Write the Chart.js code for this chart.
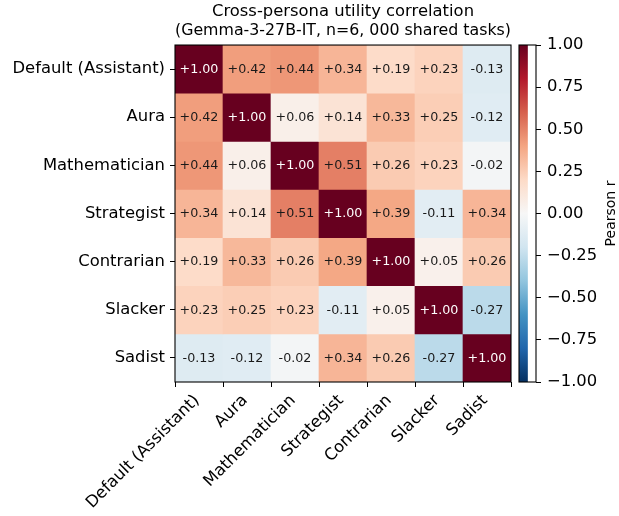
<!DOCTYPE html>
<html>
<head>
<meta charset="utf-8">
<script src="https://cdn.jsdelivr.net/npm/chart.js@4/dist/chart.umd.min.js"></script>
<style>
  html, body { margin: 0; padding: 0; background: #ffffff; }
  #wrap { position: relative; width: 619px; height: 516px; }
  #wrap canvas { position: absolute; left: 0; top: 0; }
  #cbar { pointer-events: none; }
</style>
</head>
<body>
<div id="wrap">
  <canvas id="heat" width="619" height="516"></canvas>
  <canvas id="cbar" width="619" height="516"></canvas>
</div>
<script>
// Personas (rows and columns of the correlation matrix)
const personas = ['Default (Assistant)', 'Aura', 'Mathematician', 'Strategist', 'Contrarian', 'Slacker', 'Sadist'];

// Pearson r of utilities, one row per persona
const rowDefault       = [ 1.00,  0.42,  0.44,  0.34,  0.19,  0.23, -0.13];
const rowAura          = [ 0.42,  1.00,  0.06,  0.14,  0.33,  0.25, -0.12];
const rowMathematician = [ 0.44,  0.06,  1.00,  0.51,  0.26,  0.23, -0.02];
const rowStrategist    = [ 0.34,  0.14,  0.51,  1.00,  0.39, -0.11,  0.34];
const rowContrarian    = [ 0.19,  0.33,  0.26,  0.39,  1.00,  0.05,  0.26];
const rowSlacker       = [ 0.23,  0.25,  0.23, -0.11,  0.05,  1.00, -0.27];
const rowSadist        = [-0.13, -0.12, -0.02,  0.34,  0.26, -0.27,  1.00];

// Colour bar range and tick step
const colorRange = [-1, 1];
const colorTickStep = 0.25;

const titleLines = ['Cross-persona utility correlation', '(Gemma-3-27B-IT, n=6, 000 shared tasks)'];
const colorbarLabel = 'Pearson r';

const matrix = [rowDefault, rowAura, rowMathematician, rowStrategist, rowContrarian, rowSlacker, rowSadist];

// Diverging red/blue map (blue for negative, dark red for positive)
const divergingStops = [
  [0.0, [5, 48, 97]], [0.1, [33, 102, 172]], [0.2, [67, 147, 195]], [0.3, [146, 197, 222]],
  [0.4, [209, 229, 240]], [0.5, [247, 247, 247]], [0.6, [253, 219, 199]], [0.7, [244, 165, 130]],
  [0.8, [214, 96, 77]], [0.9, [178, 24, 43]], [1.0, [103, 0, 31]]
];
function colorFor(v) {
  let t = (v - colorRange[0]) / (colorRange[1] - colorRange[0]);
  t = Math.max(0, Math.min(1, t));
  for (let i = 1; i < divergingStops.length; i++) {
    const [t1, c1] = divergingStops[i];
    const [t0, c0] = divergingStops[i - 1];
    if (t <= t1 + 1e-9) {
      const f = (t - t0) / (t1 - t0);
      const c = c0.map((a, k) => Math.round(a + (c1[k] - a) * f));
      return `rgb(${c[0]},${c[1]},${c[2]})`;
    }
  }
  return 'rgb(103,0,31)';
}

const FONT = "'DejaVu Sans', sans-serif";
Chart.defaults.font.family = FONT;
Chart.defaults.color = '#000000';

// Each row of the matrix is one dataset of floating bars spanning its row band
const datasets = matrix.map((row, r) => ({
  label: personas[r],
  data: row.map(() => [r - 0.5, r + 0.5]),
  values: row,
  backgroundColor: row.map(colorFor),
  borderWidth: 0,
  barPercentage: 1,
  categoryPercentage: 1,
  grouped: false
}));

// Value text in every cell plus the frame around the grid
const cellText = {
  id: 'cellText',
  afterDatasetsDraw(chart) {
    const ctx = chart.ctx;
    ctx.save();
    ctx.font = `12.7px ${FONT}`;
    ctx.textAlign = 'center';
    ctx.textBaseline = 'middle';
    chart.data.datasets.forEach((ds, i) => {
      const meta = chart.getDatasetMeta(i);
      meta.data.forEach((el, j) => {
        const v = ds.values[j];
        const p = el.getCenterPoint();
        ctx.fillStyle = Math.abs(v) > 0.6 ? '#ffffff' : '#1a1a1a';
        ctx.fillText((v >= 0 ? '+' : '') + v.toFixed(2), p.x, p.y + 0.5);
      });
    });
    const a = chart.chartArea;
    ctx.strokeStyle = '#000000';
    ctx.lineWidth = 1.1;
    ctx.strokeRect(a.left, a.top, a.right - a.left, a.bottom - a.top);
    ctx.restore();
  }
};

new Chart(document.getElementById('heat'), {
  type: 'bar',
  data: { labels: personas, datasets },
  plugins: [cellText],
  options: {
    responsive: false,
    devicePixelRatio: 1,
    animation: false,
    events: [],
    layout: { padding: { left: 0, right: 108, top: 0, bottom: 0 } },
    plugins: {
      legend: { display: false },
      tooltip: { enabled: false },
      title: {
        display: true,
        fullSize: false,
        text: titleLines,
        color: '#000000',
        font: { size: 16.4, weight: 'normal', family: FONT, lineHeight: 1.12 },
        padding: { top: 3, bottom: 5.3 }
      }
    },
    scales: {
      x: {
        type: 'category',
        offset: true,
        afterFit(s) { s.height = 134; },
        grid: { display: true, drawOnChartArea: false, tickLength: 5, color: '#000000', lineWidth: 1 },
        border: { display: false },
        ticks: {
          autoSkip: false, minRotation: 45, maxRotation: 45, padding: 4, labelOffset: -2,
          color: '#000000', font: { size: 16.4, family: FONT }
        }
      },
      y: {
        type: 'linear',
        min: -0.5,
        max: 6.5,
        reverse: true,
        afterFit(s) { s.width = 175; },
        afterBuildTicks(s) { s.ticks = personas.map((_, i) => ({ value: i })); },
        grid: { display: true, drawOnChartArea: false, tickLength: 5, color: '#000000', lineWidth: 1 },
        border: { display: false },
        ticks: {
          padding: 5,
          color: '#000000',
          font: { size: 16.4, family: FONT },
          callback: (v) => personas[v]
        }
      }
    }
  }
});

// Colour bar: one floating bar across the full range, filled with the map
const cbarFrame = {
  id: 'cbarFrame',
  afterDatasetsDraw(chart) {
    const ctx = chart.ctx;
    const a = chart.chartArea;
    ctx.save();
    ctx.strokeStyle = '#000000';
    ctx.lineWidth = 1.1;
    ctx.strokeRect(a.left, a.top, a.right - a.left, a.bottom - a.top);
    ctx.fillStyle = '#000000';
    ctx.font = `14px ${FONT}`;
    ctx.textAlign = 'center';
    ctx.textBaseline = 'middle';
    ctx.translate(611, (a.top + a.bottom) / 2);
    ctx.rotate(-Math.PI / 2);
    ctx.fillText(colorbarLabel, 0, 0);
    ctx.restore();
  }
};

new Chart(document.getElementById('cbar'), {
  type: 'bar',
  data: {
    labels: [colorbarLabel],
    datasets: [{
      data: [colorRange.slice()],
      borderWidth: 0,
      barPercentage: 1,
      categoryPercentage: 1,
      backgroundColor(c) {
        const chart = c.chart;
        if (!chart.chartArea) return 'rgba(0,0,0,0)';
        const ys = chart.scales.y;
        const y0 = ys.getPixelForValue(colorRange[0]);
        const y1 = ys.getPixelForValue(colorRange[1]);
        const g = chart.ctx.createLinearGradient(0, y0, 0, y1);
        divergingStops.forEach(([t]) => {
          g.addColorStop(t, colorFor(colorRange[0] + t * (colorRange[1] - colorRange[0])));
        });
        return g;
      }
    }]
  },
  plugins: [cbarFrame],
  options: {
    responsive: false,
    devicePixelRatio: 1,
    animation: false,
    events: [],
    layout: { padding: { left: 519, right: 0, top: 45, bottom: 134 } },
    plugins: { legend: { display: false }, tooltip: { enabled: false }, title: { display: false } },
    scales: {
      x: { display: false, offset: false },
      y: {
        position: 'right',
        min: colorRange[0],
        max: colorRange[1],
        afterFit(s) { s.width = 83; },
        grid: { display: true, drawOnChartArea: false, tickLength: 5, color: '#000000', lineWidth: 1 },
        border: { display: false },
        ticks: {
          stepSize: colorTickStep,
          padding: 6,
          color: '#000000',
          font: { size: 16.4, family: FONT },
          callback: (v) => (v < 0 ? '\u2212' : '') + Math.abs(v).toFixed(2)
        }
      }
    }
  }
});
</script>
</body>
</html>
